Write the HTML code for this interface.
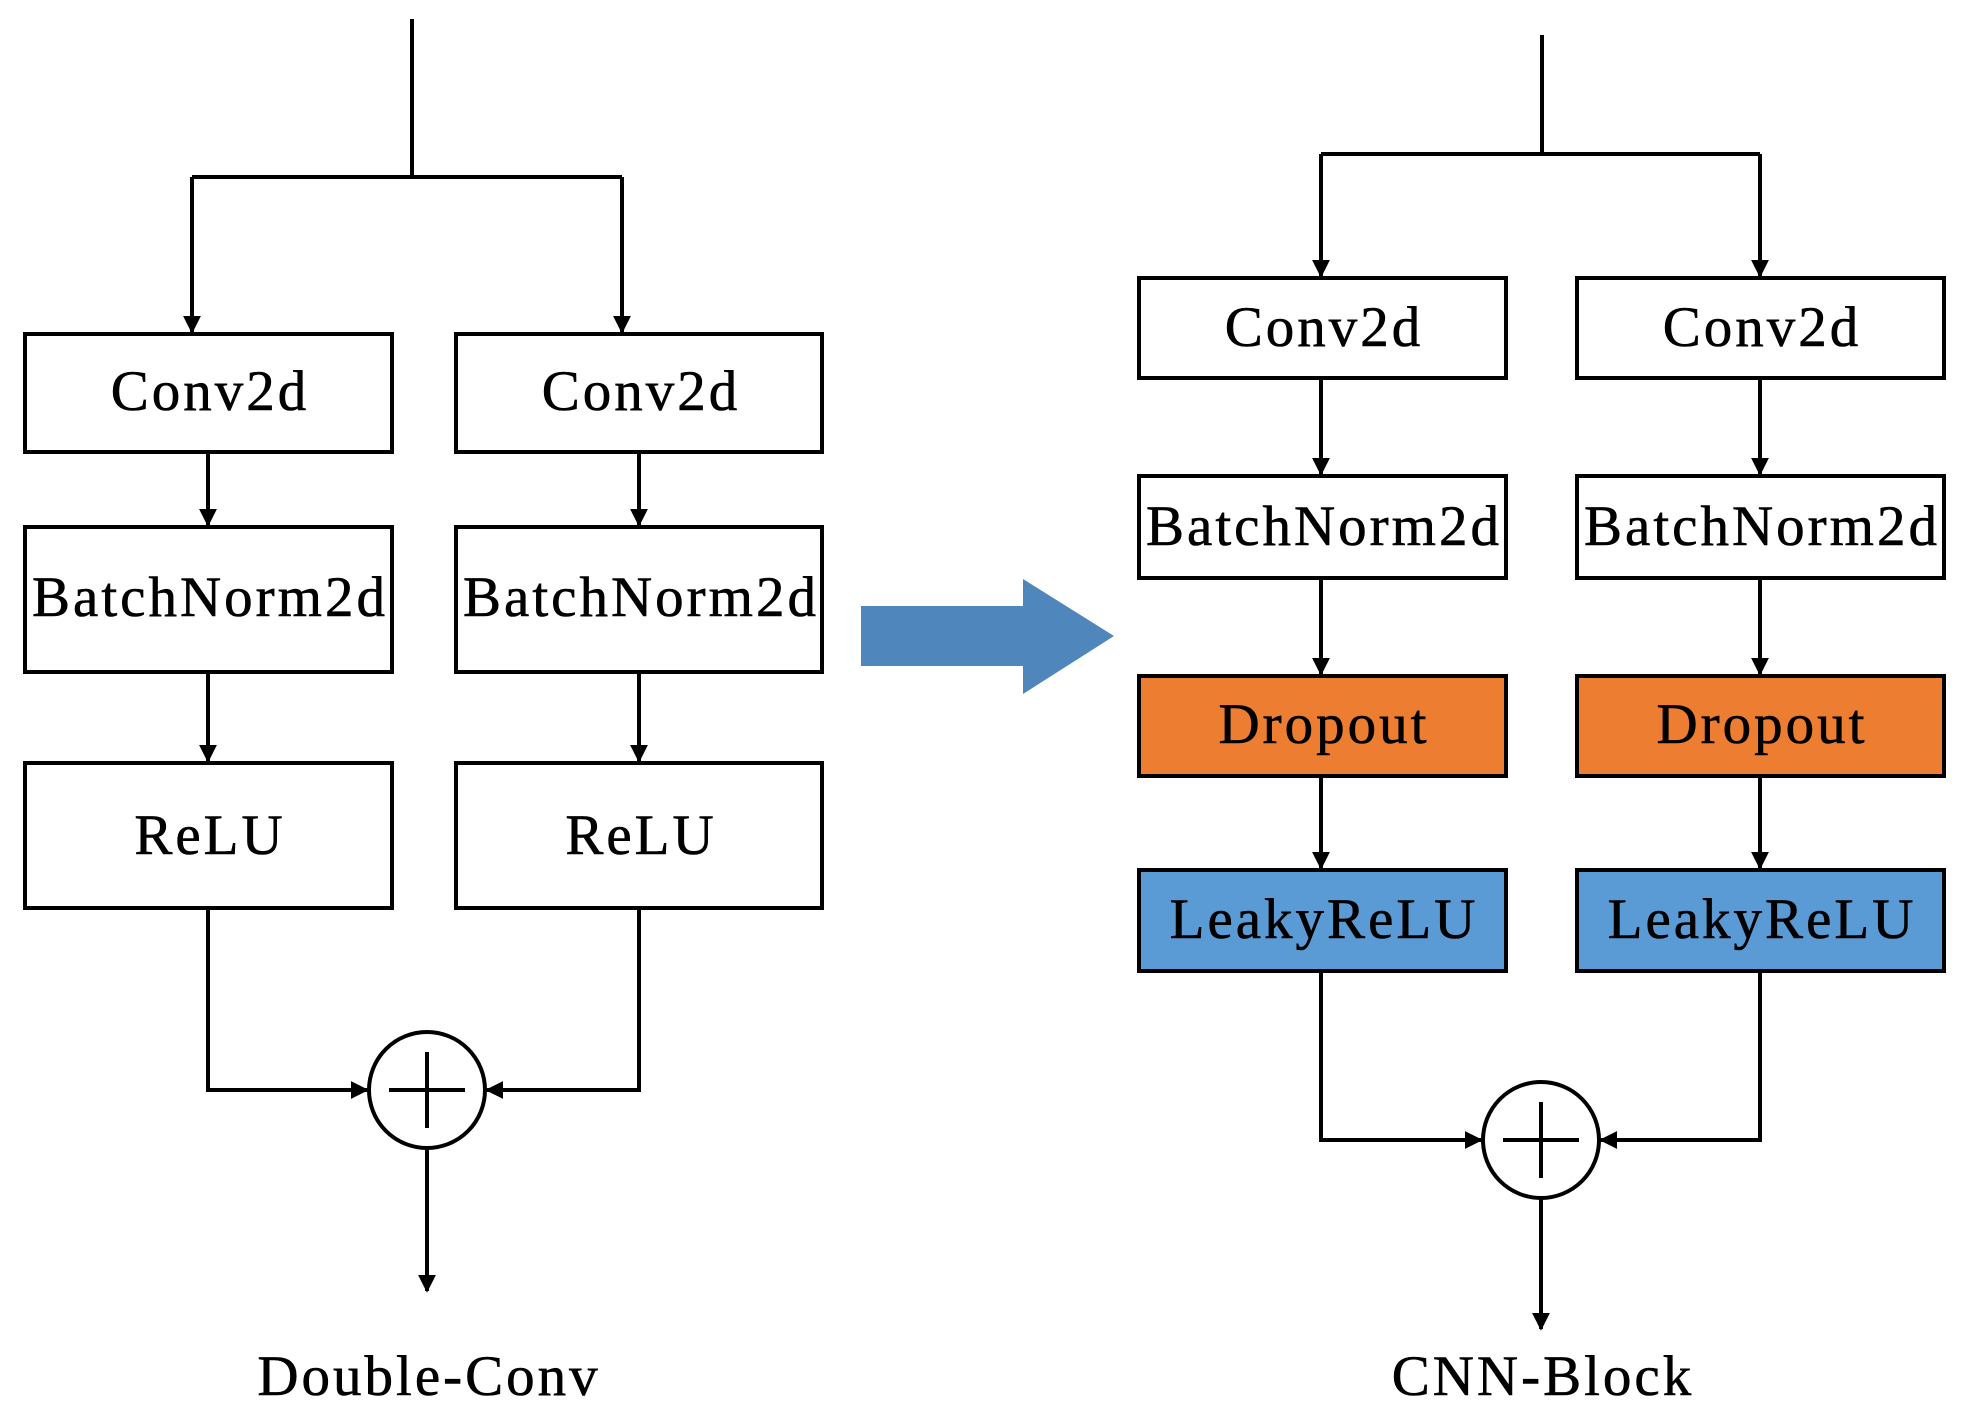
<!DOCTYPE html>
<html><head><style>body{margin:0;background:#fff}svg{display:block}</style></head><body>
<svg width="1969" height="1417" viewBox="0 0 1969 1417" xmlns="http://www.w3.org/2000/svg" font-family="Liberation Serif, serif">
<defs><marker id="a" viewBox="0 0 10 10" refX="9" refY="5" markerWidth="4.5" markerHeight="4.5" orient="auto"><path d="M0,0L10,5L0,10z" fill="#000"/></marker></defs>
<g stroke="#000" stroke-width="4" fill="none">
<!-- left -->
<path d="M412,19V177M192,177H622M192,177V332" marker-end="url(#a)"/>
<path d="M622,177V332" marker-end="url(#a)"/>
<path d="M208,452V525" marker-end="url(#a)"/>
<path d="M639,452V525" marker-end="url(#a)"/>
<path d="M208,672V761" marker-end="url(#a)"/>
<path d="M639,672V761" marker-end="url(#a)"/>
<path d="M208,908V1090H367" marker-end="url(#a)"/>
<path d="M639,908V1090H487" marker-end="url(#a)"/>
<path d="M427,1148V1291" marker-end="url(#a)"/>
<circle cx="427" cy="1090" r="58"/>
<path d="M389,1090H465M427,1052V1128"/>
<rect x="25" y="334" width="367" height="118" fill="#fff"/>
<rect x="456" y="334" width="366" height="118" fill="#fff"/>
<rect x="25" y="527" width="367" height="145" fill="#fff"/>
<rect x="456" y="527" width="366" height="145" fill="#fff"/>
<rect x="25" y="763" width="367" height="145" fill="#fff"/>
<rect x="456" y="763" width="366" height="145" fill="#fff"/>
<!-- right -->
<path d="M1542,35V154M1321,154H1760M1321,154V276" marker-end="url(#a)"/>
<path d="M1760,154V276" marker-end="url(#a)"/>
<path d="M1321,378V474" marker-end="url(#a)"/>
<path d="M1760,378V474" marker-end="url(#a)"/>
<path d="M1321,578V674" marker-end="url(#a)"/>
<path d="M1760,578V674" marker-end="url(#a)"/>
<path d="M1321,776V868" marker-end="url(#a)"/>
<path d="M1760,776V868" marker-end="url(#a)"/>
<path d="M1321,971V1140H1481" marker-end="url(#a)"/>
<path d="M1760,971V1140H1601" marker-end="url(#a)"/>
<path d="M1541,1198V1329" marker-end="url(#a)"/>
<circle cx="1541" cy="1140" r="58"/>
<path d="M1503,1140H1579M1541,1102V1178"/>
<rect x="1139" y="278" width="367" height="100" fill="#fff"/>
<rect x="1577" y="278" width="367" height="100" fill="#fff"/>
<rect x="1139" y="476" width="367" height="102" fill="#fff"/>
<rect x="1577" y="476" width="367" height="102" fill="#fff"/>
<rect x="1139" y="676" width="367" height="100" fill="#ED7D31"/>
<rect x="1577" y="676" width="367" height="100" fill="#ED7D31"/>
<rect x="1139" y="870" width="367" height="101" fill="#5B9BD5"/>
<rect x="1577" y="870" width="367" height="101" fill="#5B9BD5"/>
</g>
<path d="M861,606H1023V579L1114,636L1023,694V666H861z" fill="#4F86BC"/>
<g font-size="57" text-anchor="middle" fill="#000" letter-spacing="3" stroke="#000" stroke-width="0.6">
<text x="210" y="410">Conv2d</text><text x="641" y="410">Conv2d</text>
<text x="210" y="616">BatchNorm2d</text><text x="641" y="616">BatchNorm2d</text>
<text x="210" y="854">ReLU</text><text x="641" y="854">ReLU</text>
<text x="1324" y="346">Conv2d</text><text x="1762" y="346">Conv2d</text>
<text x="1324" y="545">BatchNorm2d</text><text x="1762" y="545">BatchNorm2d</text>
<text x="1324" y="743">Dropout</text><text x="1762" y="743">Dropout</text>
<text x="1324" y="938">LeakyReLU</text><text x="1762" y="938">LeakyReLU</text>
<text x="429" y="1395">Double-Conv</text>
<text x="1543" y="1395">CNN-Block</text>
</g>
</svg>
</body></html>
